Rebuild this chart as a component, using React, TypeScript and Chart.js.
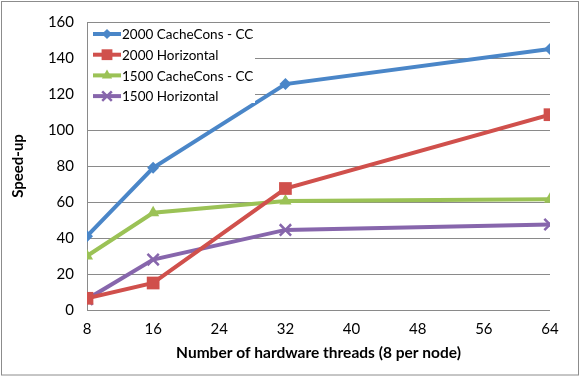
import React, { useEffect, useRef } from "react";
import { Chart, registerables } from "chart.js";

Chart.register(...registerables);

const threads = [8, 16, 32, 64];
const cc2000 = [41, 79, 125.5, 145];
const hz2000 = [6.5, 15, 67.5, 108.5];
const cc1500 = [30, 54, 60.5, 61.5];
const hz1500 = [6, 28, 44.5, 47.5];
const xTicks = [8, 16, 24, 32, 40, 48, 56, 64];
const labels = ["2000 CacheCons - CC", "2000 Horizontal", "1500 CacheCons - CC", "1500 Horizontal"];

const FONT = "Lato, 'Open Sans', sans-serif";
const COLORS = ["#4a86c8", "#d0504c", "#9bc256", "#8766ac"];
const STYLES = ["rectRot", "rect", "triangle", "crossRot"];
const RADII = [6, 9, 7, 8];

function drawMarker(ctx: CanvasRenderingContext2D, style: string, x: number, y: number, r: number) {
  ctx.beginPath();
  if (style === "rectRot") {
    ctx.moveTo(x - r, y);
    ctx.lineTo(x, y - r);
    ctx.lineTo(x + r, y);
    ctx.lineTo(x, y + r);
    ctx.closePath();
    ctx.fill();
  } else if (style === "rect") {
    const s = r * Math.SQRT1_2;
    ctx.rect(x - s, y - s, 2 * s, 2 * s);
    ctx.fill();
  } else if (style === "triangle") {
    ctx.moveTo(x, y - r);
    ctx.lineTo(x + r * 0.866, y + r * 0.5);
    ctx.lineTo(x - r * 0.866, y + r * 0.5);
    ctx.closePath();
    ctx.fill();
  } else {
    const s = r * Math.SQRT1_2;
    ctx.moveTo(x - s, y - s);
    ctx.lineTo(x + s, y + s);
    ctx.moveTo(x + s, y - s);
    ctx.lineTo(x - s, y + s);
    ctx.stroke();
  }
}

const legendPlugin = {
  id: "customLegend",
  afterDraw(chart: any) {
    const ctx = chart.ctx;
    const area = chart.chartArea;
    ctx.save();
    const bx = area.left + 1;
    const by = area.top + 1;
    ctx.fillStyle = "#ffffff";
    ctx.fillRect(bx, by, 167, 80);
    chart.data.datasets.forEach((ds: any, i: number) => {
      const y = area.top + 12 + i * 20.7;
      const x0 = area.left + 6;
      const x1 = area.left + 34;
      ctx.strokeStyle = ds.borderColor;
      ctx.lineWidth = 4;
      ctx.beginPath();
      ctx.moveTo(x0, y);
      ctx.lineTo(x1, y);
      ctx.stroke();
      ctx.fillStyle = ds.pointBackgroundColor;
      ctx.strokeStyle = ds.pointBorderColor;
      ctx.lineWidth = ds.pointBorderWidth;
      drawMarker(ctx, ds.pointStyle, (x0 + x1) / 2, y, ds.pointRadius * 0.85);
      ctx.fillStyle = "#000";
      ctx.font = "13.5px " + FONT;
      ctx.textBaseline = "middle";
      ctx.textAlign = "left";
      ctx.fillText(ds.label, x1 + 1, y + 1);
    });
    ctx.strokeStyle = "#8c8c8c";
    ctx.lineWidth = 1;
    ctx.strokeRect(1.5, 1.5, 577, 373.5);
    ctx.restore();
  },
};

export default function App() {
  const ref = useRef<HTMLCanvasElement>(null);
  useEffect(() => {
    document.body.style.margin = "0";
    const series = [cc2000, hz2000, cc1500, hz1500];
    const chart = new Chart(ref.current!, {
      type: "line",
      data: {
        datasets: series.map((s, i) => ({
          label: labels[i],
          data: s.map((v, j) => ({ x: threads[j], y: v })),
          borderColor: COLORS[i],
          backgroundColor: COLORS[i],
          borderWidth: 4,
          pointStyle: STYLES[i] as any,
          pointRadius: RADII[i],
          pointBackgroundColor: COLORS[i],
          pointBorderColor: COLORS[i],
          pointBorderWidth: i === 3 ? 2.5 : 0,
          tension: 0,
        })),
      },
      options: {
        responsive: false,
        animation: false,
        layout: { padding: { top: 17, right: 31, left: 0, bottom: 0 } },
        plugins: { legend: { display: false }, tooltip: { enabled: false } },
        scales: {
          x: {
            type: "linear",
            min: 8,
            max: 64,
            afterBuildTicks: (s: any) => {
              s.ticks = xTicks.map((v) => ({ value: v }));
            },
            afterFit: (s: any) => {
              s.height = 67;
            },
            grid: { display: false, drawTicks: false },
            border: { display: false },
            ticks: { color: "#000", font: { family: FONT, size: 15 }, padding: 10, maxRotation: 0 },
            title: {
              display: true,
              text: "Number of hardware threads (8 per node)",
              color: "#000",
              font: { family: FONT, size: 15.5, weight: "bold" },
              padding: { top: 0, bottom: 15 },
            },
          },
          y: {
            min: 0,
            max: 160,
            afterFit: (s: any) => {
              s.width = 87;
            },
            grid: { color: "#8a8a8a", lineWidth: 1, drawTicks: false },
            border: { display: true, color: "#8a8a8a", width: 1 },
            ticks: { stepSize: 20, color: "#000", font: { family: FONT, size: 15 }, padding: 13 },
            title: {
              display: true,
              text: "Speed-up",
              color: "#000",
              font: { family: FONT, size: 15, weight: "bold" },
              padding: { top: 9, bottom: 0 },
            },
          },
        },
      },
      plugins: [legendPlugin],
    });
    return () => chart.destroy();
  }, []);
  return <canvas ref={ref} width={581} height={377} style={{ display: "block" }} />;
}
